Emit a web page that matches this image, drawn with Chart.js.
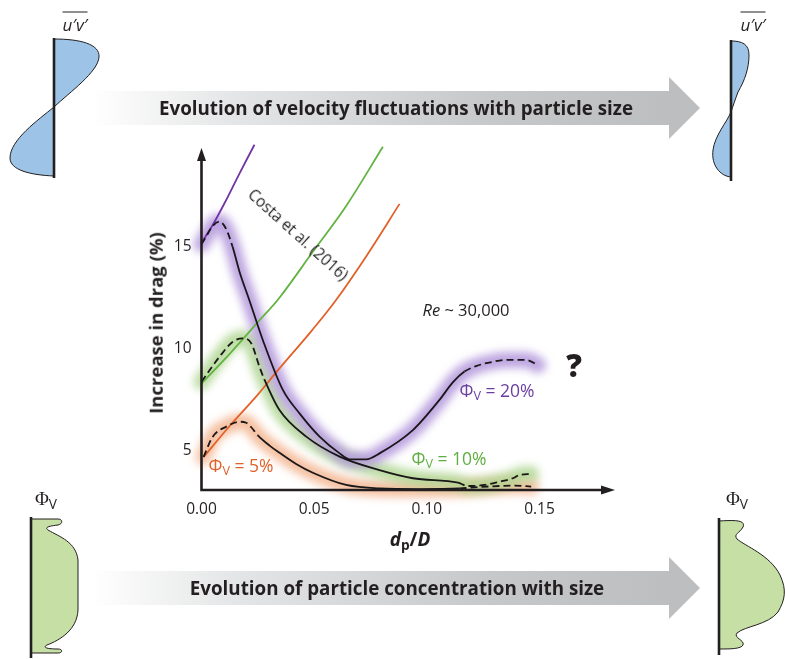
<!DOCTYPE html>
<html lang="en">
<head>
<meta charset="UTF-8">
<title>Increase in drag vs particle size</title>
<script src="https://cdn.jsdelivr.net/npm/chart.js@4.4.1/dist/chart.umd.min.js"></script>
<style>
    body { margin: 0; background: #fff; }
    #wrap { position: relative; width: 785px; height: 659px; overflow: hidden; font-family: "Open Sans", sans-serif; color: #231f20; }
    #wrap svg, #wrap canvas { position: absolute; left: 0; top: 0; }
    .t { position: absolute; white-space: nowrap; transform: translate(-50%, -50%); line-height: 1; }
    .t sub { font-size: 0.72em; vertical-align: -0.25em; }
    .banner { font-weight: 700; font-size: 18.8px; }
</style>
</head>
<body>
<div id="wrap">
    <svg width="785" height="659">
        <defs>
            <linearGradient id="band" x1="0" x2="1" y1="0" y2="0">
                <stop offset="0" stop-color="#ffffff"/>
                <stop offset="0.25" stop-color="#e4e5e6"/>
                <stop offset="0.7" stop-color="#c6c7c9"/>
                <stop offset="1" stop-color="#bcbec0"/>
            </linearGradient>
        </defs>
        <!-- banners -->
        <rect x="92" y="91" width="578" height="34" fill="url(#band)"/>
        <polygon points="669,77 700,108 669,139" fill="#bcbec0"/>
        <rect x="92" y="571" width="578" height="34" fill="url(#band)"/>
        <polygon points="669,557 700,588 669,619" fill="#bcbec0"/>
        <!-- u'v' profiles -->
        <path d="M54,39 C80,39 100,44 99,57 C98,72 70,92 54,107 C38,120 10,140 10,158 C10,170 30,175 54,176 Z" fill="#9dc3e6" stroke="#231f20" stroke-width="1"/>
        <line x1="54" y1="38" x2="54" y2="178" stroke="#231f20" stroke-width="2.6"/>
        <path d="M731,41 C742,41 749,44 749,55 C749,68 745,80 738,92 C735,100 733,106 731,112 C727,122 715,135 713,150 C711,165 720,176 731,177 Z" fill="#9dc3e6" stroke="#231f20" stroke-width="1"/>
        <line x1="731" y1="40" x2="731" y2="181" stroke="#231f20" stroke-width="2.6"/>
        <!-- concentration profiles -->
        <path d="M31,519 L58,519 C63,519 63,524 58,525 C50,526 44,527 48,530 C60,537 76,542 78,560 L78,610 C77,630 60,640 47,645 C43,647 45,649 58,649 C63,649 63,653 58,653 L31,653 Z" fill="#c5dfa5" stroke="#231f20" stroke-width="1"/>
        <line x1="31" y1="517" x2="31" y2="658" stroke="#231f20" stroke-width="2.6"/>
        <path d="M719,521 C735,520 746,520 743,527 C740,533 733,534 737,539 C745,546 770,555 780,575 C787,590 785,600 778,612 C768,625 745,626 737,633 C733,638 745,640 743,645 C741,649 730,649 719,649 Z" fill="#c5dfa5" stroke="#231f20" stroke-width="1"/>
        <line x1="719" y1="518" x2="719" y2="655" stroke="#231f20" stroke-width="2.6"/>
    </svg>
    <canvas id="myChart" width="785" height="659"></canvas>

    <div class="t banner" style="left:396px;top:108px">Evolution of velocity fluctuations with particle size</div>
    <div class="t banner" style="left:397px;top:588px">Evolution of particle concentration with size</div>

    <div class="t" style="left:75px;top:22px;font-size:17px;font-style:italic;border-top:1.2px solid #231f20;padding-top:3px">u′v′</div>
    <div class="t" style="left:753px;top:22px;font-size:17px;font-style:italic;border-top:1.2px solid #231f20;padding-top:3px">u′v′</div>
    <div class="t" style="left:46px;top:500px;font-size:19px"><span style="font-family:'Liberation Serif',serif">Φ</span><sub>V</sub></div>
    <div class="t" style="left:737px;top:500px;font-size:19px"><span style="font-family:'Liberation Serif',serif">Φ</span><sub>V</sub></div>

    <div class="t" style="left:156px;top:323px;font-weight:700;font-size:18.5px;transform:translate(-50%,-50%) rotate(-90deg)">Increase in drag (%)</div>
    <div class="t" style="left:410px;top:541px;font-weight:700;font-size:19px"><i>d</i><sub>p</sub>/<i>D</i></div>

    <div class="t" style="left:298px;top:235px;font-size:15.5px;transform:translate(-50%,-50%) rotate(42deg)">Costa et al. (2016)</div>
    <div class="t" style="left:466px;top:310px;font-size:16.5px"><i>Re</i> ~ 30,000</div>
    <div class="t" style="left:574px;top:365px;font-size:31px;font-weight:800">?</div>
    <div class="t" style="left:497px;top:392px;font-size:17.5px;color:#6b3fa0">Φ<sub>V</sub> = 20%</div>
    <div class="t" style="left:449px;top:460px;font-size:17.5px;color:#5fae41">Φ<sub>V</sub> = 10%</div>
    <div class="t" style="left:241px;top:467px;font-size:17.5px;color:#e0622a">Φ<sub>V</sub> = 5%</div>
</div>
<script>
    // axis ticks
    const xTicks = [0, 0.05, 0.10, 0.15];
    const yTicks = [5, 10, 15];

    // Costa et al. (2016) correlation lines
    const costa20X = [0, 0.0049, 0.0102, 0.0169, 0.0235];
    const costa20Y = [15.2, 16.05, 17.13, 18.6, 20.0];
    const costa10X = [0, 0.0125, 0.025, 0.0346, 0.0494, 0.0642, 0.0805];
    const costa10Y = [8.3, 9.75, 11.3, 12.5, 14.75, 17.0, 19.9];
    const costa5X  = [0.001, 0.0124, 0.025, 0.0332, 0.0494, 0.0598, 0.0735, 0.0879];
    const costa5Y  = [4.7, 6.2, 7.75, 8.85, 10.95, 12.4, 14.6, 17.1];

    // simulations, Phi_V = 20 %
    const sim20X = [0, 0.0022, 0.0049, 0.008, 0.0107, 0.0138, 0.0169, 0.0212, 0.0272, 0.0361, 0.0435, 0.0524, 0.0613, 0.0657, 0.0731, 0.079, 0.0938, 0.1056, 0.1115, 0.1167, 0.1219, 0.1293, 0.1352, 0.1441, 0.1493];
    const sim20Y = [15.12, 15.52, 16.01, 16.23, 15.92, 15.0, 13.76, 12.39, 10.43, 7.98, 6.83, 5.69, 4.87, 4.58, 4.58, 4.87, 6.01, 7.49, 8.35, 8.88, 9.15, 9.36, 9.45, 9.45, 9.2];
    // simulations, Phi_V = 10 %
    const sim10X = [0, 0.008, 0.0139, 0.0183, 0.0221, 0.0257, 0.028, 0.0346, 0.0465, 0.0613, 0.079, 0.0938, 0.1138, 0.1182, 0.1256, 0.1323, 0.1382, 0.1411, 0.1463];
    const sim10Y = [8.38, 9.61, 10.34, 10.51, 10.26, 9.12, 8.47, 6.99, 5.69, 4.71, 4.05, 3.65, 3.43, 3.27, 3.32, 3.48, 3.65, 3.81, 3.86];
    // simulations, Phi_V = 5 %
    const sim5X = [0.0009, 0.005, 0.011, 0.0169, 0.0198, 0.0221, 0.025, 0.0302, 0.0346, 0.042, 0.0494, 0.0642, 0.079, 0.0968, 0.1145, 0.1234, 0.1323, 0.139, 0.1463];
    const sim5Y = [4.69, 5.69, 6.18, 6.42, 6.37, 6.15, 5.75, 5.25, 4.9, 4.35, 3.92, 3.32, 3.15, 3.12, 3.15, 3.22, 3.27, 3.29, 3.24];

    // x ranges drawn dashed at the start / end of each simulation curve
    const dash20 = [0.0138, 0.1167];
    const dash10 = [0.028, 0.1138];
    const dash5  = [0.025, 0.1145];

    const pts = (xs, ys) => xs.map((x, i) => ({x: x, y: ys[i]}));

    function glow(xs, ys, color) {
        return {
            data: pts(xs, ys), glow: true, borderColor: color, borderWidth: 16,
            borderCapStyle: 'round', borderJoinStyle: 'round',
            pointRadius: 0, cubicInterpolationMode: 'monotone', clip: false, order: 3
        };
    }
    function costa(xs, ys, color) {
        return {
            data: pts(xs, ys), borderColor: color, borderWidth: 1.8,
            pointRadius: 0, tension: 0.35, clip: false, order: 2
        };
    }
    function sim(xs, ys, cut) {
        return {
            data: pts(xs, ys), borderColor: '#1a1718', borderWidth: 1.8,
            pointRadius: 0, cubicInterpolationMode: 'monotone', clip: false, order: 1,
            segment: {
                borderDash: c => (c.p1.parsed.x <= cut[0] + 1e-6 || c.p0.parsed.x >= cut[1] - 1e-6) ? [7, 4] : []
            }
        };
    }

    // soft blur for the coloured halos
    const glowPlugin = {
        id: 'glow',
        beforeDatasetDraw(chart, args) {
            if (chart.data.datasets[args.index].glow) {
                chart.ctx.save();
                chart.ctx.filter = 'blur(4px)';
            }
        },
        afterDatasetDraw(chart, args) {
            if (chart.data.datasets[args.index].glow) chart.ctx.restore();
        }
    };

    // axis lines with arrow heads
    const arrowAxes = {
        id: 'arrowAxes',
        afterDatasetsDraw(chart) {
            const {ctx, chartArea: a} = chart;
            ctx.save();
            ctx.strokeStyle = '#231f20';
            ctx.fillStyle = '#231f20';
            ctx.lineWidth = 2.6;
            ctx.beginPath();
            ctx.moveTo(a.left, a.top + 10);
            ctx.lineTo(a.left, a.bottom);
            ctx.lineTo(a.right - 10, a.bottom);
            ctx.stroke();
            ctx.beginPath();
            ctx.moveTo(a.left, a.top);
            ctx.lineTo(a.left - 4.5, a.top + 13);
            ctx.lineTo(a.left + 4.5, a.top + 13);
            ctx.closePath();
            ctx.fill();
            ctx.beginPath();
            ctx.moveTo(a.right, a.bottom);
            ctx.lineTo(a.right - 14, a.bottom - 4.5);
            ctx.lineTo(a.right - 14, a.bottom + 4.5);
            ctx.closePath();
            ctx.fill();
            ctx.restore();
        }
    };

    const tickFont = {family: '"Open Sans", sans-serif', size: 15.5};

    new Chart(document.getElementById('myChart'), {
        type: 'line',
        data: {
            datasets: [
                sim(sim20X, sim20Y, dash20),
                sim(sim10X, sim10Y, dash10),
                sim(sim5X, sim5Y, dash5),
                costa(costa20X, costa20Y, '#7034a6'),
                costa(costa10X, costa10Y, '#62b342'),
                costa(costa5X, costa5Y, '#e0622a'),
                glow(sim20X, sim20Y, 'rgba(180,152,220,0.88)'),
                glow(sim10X, sim10Y, 'rgba(172,212,142,0.82)'),
                glow(sim5X, sim5Y, 'rgba(243,178,140,0.82)')
            ]
        },
        options: {
            responsive: false,
            animation: false,
            events: [],
            layout: {padding: {left: 141.5, top: 148, right: 170, bottom: 129}},
            plugins: {legend: {display: false}, tooltip: {enabled: false}},
            scales: {
                x: {
                    type: 'linear', min: 0, max: 0.1835,
                    afterBuildTicks: s => { s.ticks = xTicks.map(v => ({value: v})); },
                    afterFit: s => { s.height = 40; },
                    grid: {display: false, drawTicks: false},
                    border: {display: false},
                    ticks: {font: tickFont, color: '#231f20', padding: 10, maxRotation: 0, callback: v => v.toFixed(2)}
                },
                y: {
                    type: 'linear', min: 3.074, max: 19.84,
                    afterBuildTicks: s => { s.ticks = yTicks.map(v => ({value: v})); },
                    afterFit: s => { s.width = 60; },
                    grid: {display: false, drawTicks: false},
                    border: {display: false},
                    ticks: {font: tickFont, color: '#231f20', padding: 10}
                }
            }
        },
        plugins: [glowPlugin, arrowAxes]
    });
</script>
</body>
</html>
